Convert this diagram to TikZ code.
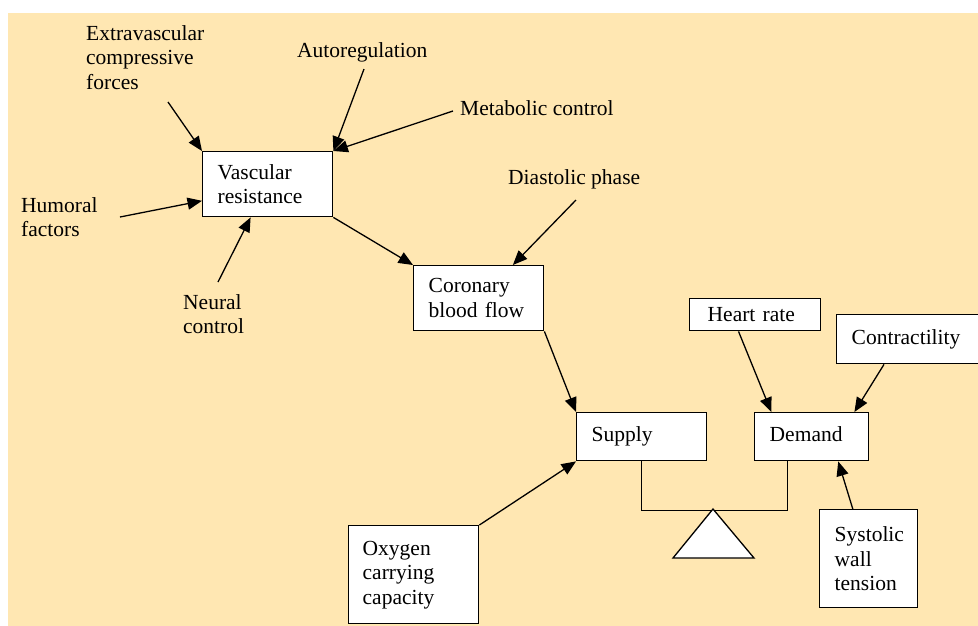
\documentclass[tikz,border=0pt]{standalone}
\usepackage{fontspec}
\setmainfont{Liberation Serif}
\newfontfamily\tnr{Liberation Serif}
\usetikzlibrary{arrows.meta,calc}
\definecolor{bgc}{RGB}{255,231,178}
\begin{document}
\begin{tikzpicture}[x=1pt,y=-1pt,
  font=\tnr\fontsize{21.5}{24.5}\selectfont,
  box/.style={draw=black, fill=white, line width=1.4pt, inner xsep=15pt, inner ysep=0pt, align=left, anchor=north west},
  lbl/.style={inner sep=0pt, align=left, anchor=north west},
  arr/.style={line width=1.3pt, -{Triangle[length=14.5pt,width=12pt]}},
  ln/.style={line width=1.3pt}]
\useasboundingbox (0,0) rectangle (978,625);
\clip (0,0) rectangle (978,625);
\fill[bgc] (8,13) rectangle (980,627);

% boxes
\node[box, text width=100pt, minimum height=65pt] (vr) at (202,151) {Vascular\\resistance};
\node[box, text width=100pt, minimum height=65pt] (cbf) at (413,265) {Coronary\\blood flow};
\node[box, text width=100pt, minimum height=48pt] (sup) at (576,412) {Supply};
\node[box, text width=84pt, minimum height=48pt] (dem) at (754,412) {Demand\vphantom{y}};
\node[box, inner xsep=18pt, text width=95pt, minimum height=32pt] (hr) at (689,298) {Heart rate};
\node[box, text width=130pt, minimum height=49pt] (con) at (836,314) {Contractility};
\node[box, text width=68pt, minimum height=98pt] (sys) at (819,509) {Systolic\\wall\\tension};
\node[box, inner xsep=14pt, text width=102pt, minimum height=98pt] (oxy) at (348,525) {Oxygen\\carrying\\capacity};

% free labels
\node[lbl] (ext) at (86,25.3) {Extravascular\\compressive\\forces};
\node[lbl] (aut) at (297,42.6) {Autoregulation};
\node[lbl] (met) at (460,100.3) {Metabolic control};
\node[lbl] (dia) at (508,169.3) {Diastolic phase};
\node[lbl] (hum) at (21,197.3) {Humoral\\factors};
\node[lbl] (neu) at (183,294.3) {Neural\\control};

% arrow tails
\coordinate (ext-t) at (168,102);
\coordinate (hum-t) at (120,217);
\coordinate (neu-t) at (218,282);
\coordinate (aut-t) at (364,69);
\coordinate (met-t) at (453,111);
\coordinate (dia-t) at (576,200);

% connectors
\draw[arr] (ext-t) -- (vr.north west);
\draw[arr] (hum-t) -- ($(vr.south west)!0.25!(vr.north west)$);
\draw[arr] (neu-t) -- ($(vr.south west)!0.37!(vr.south east)$);
\draw[arr] (aut-t) -- (vr.north east);
\draw[arr] (met-t) -- (vr.north east);
\draw[arr] (vr.south east) -- (cbf.north west);
\draw[arr] (dia-t) -- ($(cbf.north west)!0.76!(cbf.north east)$);
\draw[arr] (cbf.south east) -- (sup.north west);
\draw[arr] ($(hr.south west)!0.374!(hr.south east)$) -- ($(dem.north west)!0.15!(dem.north east)$);
\draw[arr] ($(con.south west)+(48,0)$) -- ($(dem.north west)!0.87!(dem.north east)$);
\draw[arr] ($(sys.north west)!0.34!(sys.north east)$) -- ($(dem.south west)!0.73!(dem.south east)$);
\draw[arr] (oxy.north east) -- (sup.south west);

% balance
\coordinate (beamL) at ($(sup.south)+(0,49)$);
\coordinate (dem-b) at ($(dem.south west)!0.29!(dem.south east)$);
\draw[ln] (sup.south) -- (beamL) -- (beamL -| dem-b) -- (dem-b);
\coordinate (piv) at (713,509);
\draw[ln, fill=white] (piv) -- (673,558) -- (754,558) -- cycle;
\end{tikzpicture}
\end{document}
